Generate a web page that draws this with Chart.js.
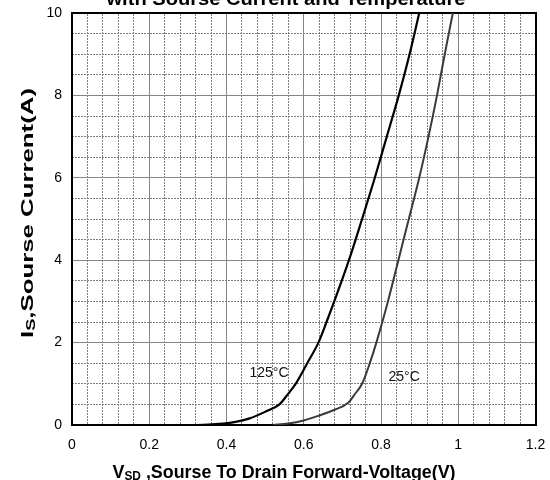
<!DOCTYPE html>
<html><head><meta charset="utf-8">
<script src="https://cdn.jsdelivr.net/npm/chart.js@4.4.1/dist/chart.umd.min.js"></script>
<style>html,body{margin:0;padding:0;background:#fff;}canvas{display:block;}</style>
</head><body>
<canvas id="c" width="550" height="480"></canvas>
<script>
// ---- data ----
const v125 = [0, 0.30, 0.34, 0.38, 0.42, 0.46, 0.50, 0.537, 0.559, 0.579, 0.609, 0.638, 0.659, 0.679, 0.717, 0.751, 0.784, 0.815, 0.846, 0.874, 0.899];
const i125 = [0, 0, 0.005, 0.025, 0.07, 0.16, 0.32, 0.50, 0.75, 1.0, 1.5, 2.0, 2.5, 3.0, 4.0, 5.0, 6.0, 7.0, 8.0, 9.0, 10];
const v25 = [0.52, 0.56, 0.60, 0.64, 0.68, 0.715, 0.734, 0.751, 0.771, 0.788, 0.818, 0.845, 0.872, 0.899, 0.923, 0.945, 0.965, 0.986];
const i25 = [0, 0.035, 0.11, 0.23, 0.37, 0.54, 0.77, 1.0, 1.5, 2.0, 3.0, 4.0, 5.0, 6.0, 7.0, 8.0, 9.0, 10];
const xTickLabels = ['0', '0.2', '0.4', '0.6', '0.8', '1', '1.2'];
const yTickLabels = ['0', '2', '4', '6', '8', '10'];
const seriesNames = ['125°C', '25°C'];
const seriesLabelV = [0.510, 0.860];
const seriesLabelI = [1.255, 1.17];
const chartTitle = 'with Sourse Current and Temperature';
const xTitleParts = [['V', 0], ['SD', 1], [' ,Sourse To Drain Forward-Voltage(V)', 0]];
const yTitleParts = [['I', 0], ['S', 1], [',Sourse Current(A)', 0]];

const FONT = '"Liberation Sans", Arial, Helvetica, sans-serif';
const pts = (xs, ys) => xs.map((x, k) => ({x: x, y: ys[k]}));

function drawParts(ctx, parts, cx, cy, size, subSize, subOff, targetW, angle) {
  ctx.save();
  const widths = parts.map(([t, s]) => { ctx.font = 'bold ' + (s ? subSize : size) + 'px ' + FONT; return ctx.measureText(t).width; });
  const w = widths.reduce((a, b) => a + b, 0);
  const sc = targetW ? targetW / w : 1;
  ctx.translate(cx, cy);
  ctx.rotate(angle);
  ctx.scale(sc, 1);
  ctx.textBaseline = 'alphabetic';
  ctx.textAlign = 'left';
  ctx.fillStyle = '#000';
  let x = -w / 2;
  parts.forEach(([t, s], k) => {
    ctx.font = 'bold ' + (s ? subSize : size) + 'px ' + FONT;
    ctx.fillText(t, x, s ? subOff : 0);
    x += widths[k];
  });
  ctx.restore();
}

const textPlugin = {
  id: 'texts',
  afterDraw(chart) {
    const ctx = chart.ctx;
    drawParts(ctx, [[chartTitle, 0]], 286, 5, 19, 12, 0, 359, 0);
    drawParts(ctx, xTitleParts, 284, 477.5, 18, 12, 2.5, 343, 0);
    drawParts(ctx, yTitleParts, 32.5, 213, 17, 12, 2.5, 250, -Math.PI / 2);
    const xs = chart.scales.x, ys = chart.scales.y;
    ctx.save();
    ctx.font = '14px ' + FONT;
    ctx.fillStyle = '#111';
    ctx.textAlign = 'center';
    ctx.textBaseline = 'middle';
    seriesNames.forEach((n, k) => ctx.fillText(n, xs.getPixelForValue(seriesLabelV[k]), ys.getPixelForValue(seriesLabelI[k])));
    ctx.restore();
  }
};

const CLEAR = 'rgba(0,0,0,0)';
const minorColor = (step, every) => (c) => {
  if (!c.tick) return CLEAR;
  const k = Math.round(c.tick.value / step);
  return (k % every === 0) ? CLEAR : '#808080';
};
const noPad = (s) => { s.paddingLeft = 0; s.paddingRight = 0; s.paddingTop = 0; s.paddingBottom = 0; };

new Chart(document.getElementById('c'), {
  type: 'line',
  data: {
    datasets: [
      {label: seriesNames[0], data: pts(v125, i125), borderColor: '#000', borderWidth: 2.2, pointRadius: 0, fill: false, cubicInterpolationMode: 'monotone', xAxisID: 'x', yAxisID: 'y'},
      {label: seriesNames[1], data: pts(v25, i25), borderColor: '#3a3a3a', borderWidth: 2, pointRadius: 0, fill: false, cubicInterpolationMode: 'monotone', xAxisID: 'x', yAxisID: 'y'}
    ]
  },
  options: {
    responsive: false,
    animation: false,
    devicePixelRatio: 1,
    layout: {padding: {top: 13, right: 14.5, left: 0, bottom: 0}},
    plugins: {legend: {display: false}, tooltip: {enabled: false}, title: {display: false}},
    scales: {
      x: {
        type: 'linear', position: 'bottom', min: 0, max: 1.2,
        afterFit: (s) => { s.height = 55; noPad(s); },
        ticks: {stepSize: 0.2, maxTicksLimit: 100, autoSkip: false, maxRotation: 0, padding: 12, color: '#000', font: {family: FONT, size: 14},
          callback: (v, i) => xTickLabels[i]},
        grid: {color: '#858585', lineWidth: 1, drawTicks: false},
        border: {display: true, color: '#000', width: 2}
      },
      xm: {
        type: 'linear', position: 'top', min: 0, max: 1.2,
        afterFit: (s) => { s.height = 0; noPad(s); },
        ticks: {display: false, stepSize: 0.04, maxTicksLimit: 100, autoSkip: false},
        grid: {color: minorColor(0.04, 5), lineWidth: 1, drawTicks: false},
        border: {display: true, color: '#000', width: 2, dash: [2, 1]}
      },
      y: {
        type: 'linear', position: 'left', min: 0, max: 10,
        afterFit: (s) => { s.width = 72; noPad(s); },
        ticks: {stepSize: 2, maxTicksLimit: 100, autoSkip: false, padding: 10, color: '#000', font: {family: FONT, size: 14},
          callback: (v, i) => yTickLabels[i]},
        grid: {color: '#858585', lineWidth: 1, drawTicks: false},
        border: {display: true, color: '#000', width: 2}
      },
      ym: {
        type: 'linear', position: 'right', min: 0, max: 10,
        afterFit: (s) => { s.width = 0; noPad(s); },
        ticks: {display: false, stepSize: 0.5, maxTicksLimit: 100, autoSkip: false},
        grid: {color: minorColor(0.5, 4), lineWidth: 1, drawTicks: false},
        border: {display: true, color: '#000', width: 2, dash: [2, 1]}
      }
    }
  },
  plugins: [textPlugin]
});
</script>
</body></html>
